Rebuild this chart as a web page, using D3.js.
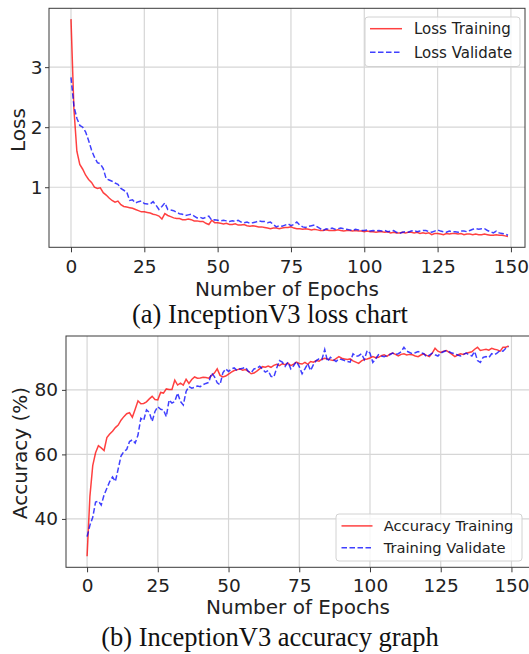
<!DOCTYPE html>
<html>
<head>
<meta charset="utf-8">
<title>InceptionV3 loss and accuracy</title>
<script src="https://d3js.org/d3.v7.min.js"></script>
<style>
    body { margin: 0; background: #fff; }
    svg { display: block; }
    .grid line { stroke: #d6d6d6; stroke-width: 1.2px; }
    .frame { fill: none; stroke: #3a3a3a; stroke-width: 1px; }
    .tick text { font-family: "DejaVu Sans", sans-serif; fill: #222; }
    .tick line { stroke: #3a3a3a; }
    .lbl { font-family: "DejaVu Sans", sans-serif; font-size: 20px; fill: #222; }
    .cap { font-family: "Liberation Serif", "Times New Roman", serif; font-size: 26.5px; fill: #111; }
    .leg text { font-family: "DejaVu Sans", sans-serif; fill: #222; }
</style>
</head>
<body>
<script>
// epochs 0..149
var epochs = d3.range(0, 150);
var xTicks = [0, 25, 50, 75, 100, 125, 150];

var lossTraining = [
 3.80, 2.30, 1.60, 1.38, 1.30, 1.20, 1.13, 1.08, 1.00, 0.98,
 0.99, 0.91, 0.87, 0.82, 0.78, 0.75, 0.77, 0.71, 0.68, 0.67,
 0.66, 0.65, 0.63, 0.61, 0.59, 0.59, 0.58, 0.57, 0.55, 0.54,
 0.52, 0.47, 0.56, 0.53, 0.51, 0.49, 0.48, 0.48, 0.46, 0.46,
 0.47, 0.46, 0.44, 0.44, 0.43, 0.43, 0.40, 0.38, 0.45, 0.41,
 0.41, 0.40, 0.39, 0.40, 0.38, 0.38, 0.39, 0.37, 0.37, 0.38,
 0.36, 0.35, 0.36, 0.35, 0.34, 0.34, 0.33, 0.32, 0.31, 0.32,
 0.32, 0.31, 0.32, 0.33, 0.33, 0.34, 0.32, 0.31, 0.31, 0.30,
 0.31, 0.30, 0.29, 0.30, 0.29, 0.28, 0.28, 0.29, 0.28, 0.28,
 0.28, 0.29, 0.28, 0.27, 0.28, 0.28, 0.27, 0.28, 0.27, 0.27,
 0.26, 0.27, 0.26, 0.26, 0.25, 0.26, 0.26, 0.25, 0.26, 0.24,
 0.25, 0.24, 0.24, 0.25, 0.24, 0.25, 0.25, 0.24, 0.25, 0.23,
 0.24, 0.23, 0.24, 0.21, 0.23, 0.23, 0.22, 0.21, 0.23, 0.22,
 0.23, 0.23, 0.22, 0.23, 0.21, 0.22, 0.22, 0.21, 0.22, 0.21,
 0.21, 0.22, 0.21, 0.20, 0.20, 0.21, 0.20, 0.20, 0.19, 0.18
];

var lossValidate = [
 2.83, 2.35, 2.15, 2.03, 2.00, 1.92, 1.78, 1.62, 1.50, 1.41,
 1.39, 1.31, 1.14, 1.12, 1.10, 1.07, 1.05, 0.98, 0.95, 0.92,
 0.78, 0.79, 0.74, 0.76, 0.77, 0.73, 0.72, 0.72, 0.76, 0.70,
 0.63, 0.68, 0.74, 0.63, 0.62, 0.61, 0.58, 0.56, 0.55, 0.53,
 0.54, 0.55, 0.52, 0.49, 0.50, 0.48, 0.50, 0.52, 0.45, 0.46,
 0.45, 0.44, 0.45, 0.44, 0.43, 0.44, 0.43, 0.45, 0.42, 0.41,
 0.42, 0.40, 0.41, 0.42, 0.44, 0.43, 0.43, 0.41, 0.42, 0.38,
 0.34, 0.36, 0.35, 0.37, 0.39, 0.36, 0.38, 0.42, 0.37, 0.34,
 0.33, 0.35, 0.36, 0.37, 0.34, 0.31, 0.28, 0.31, 0.30, 0.32,
 0.30, 0.31, 0.32, 0.31, 0.30, 0.29, 0.28, 0.30, 0.29, 0.28,
 0.28, 0.29, 0.27, 0.28, 0.27, 0.28, 0.27, 0.28, 0.26, 0.27,
 0.28, 0.25, 0.23, 0.25, 0.26, 0.25, 0.27, 0.28, 0.26, 0.27,
 0.28, 0.28, 0.26, 0.25, 0.27, 0.29, 0.27, 0.26, 0.25, 0.27,
 0.26, 0.26, 0.25, 0.27, 0.27, 0.26, 0.28, 0.30, 0.31, 0.30,
 0.31, 0.31, 0.28, 0.26, 0.24, 0.27, 0.24, 0.23, 0.22, 0.20
];

var accTraining = [
 28.4, 47.0, 56.5, 60.5, 62.7, 62.0, 61.2, 65.2, 66.3, 67.2,
 68.3, 69.1, 70.6, 71.7, 72.6, 72.9, 71.5, 74.0, 76.6, 75.7,
 75.8, 76.3, 77.2, 78.0, 77.0, 76.9, 79.2, 79.0, 80.3, 80.1,
 80.1, 83.0, 81.5, 82.1, 81.5, 83.3, 82.0, 83.2, 84.0, 83.6,
 83.7, 83.9, 83.8, 83.6, 84.5, 85.2, 86.5, 84.5, 84.0, 84.3,
 84.9, 85.5, 86.0, 86.2, 86.5, 86.1, 86.3, 85.7, 85.0, 85.2,
 85.8, 86.5, 87.2, 87.0, 87.4, 87.0, 87.6, 87.9, 87.5, 88.1,
 87.8, 88.3, 87.5, 88.0, 88.6, 88.2, 88.0, 88.5, 87.9, 88.8,
 88.6, 89.1, 88.9, 89.5, 89.8, 89.6, 89.3, 89.1, 89.7, 90.3,
 89.8, 89.6, 89.4, 89.6, 89.0, 88.6, 88.2, 89.0, 89.4, 89.6,
 89.9, 90.3, 90.0, 90.1, 90.6, 90.9, 90.4, 91.1, 91.4, 91.0,
 90.5, 91.0, 91.2, 90.8, 91.0, 90.9, 90.5, 90.3, 90.8, 91.2,
 90.7, 90.3, 91.4, 92.9, 92.0, 91.6, 92.0, 92.2, 91.6, 91.0,
 90.3, 90.8, 91.2, 91.0, 91.4, 91.6, 91.8, 92.6, 93.2, 92.2,
 92.4, 92.6, 92.3, 92.9, 92.6, 92.4, 92.0, 93.2, 93.2, 93.6
];

var accValidate = [
 34.5, 38.0, 40.5, 45.2, 45.5, 44.3, 47.4, 49.5, 51.6, 53.0,
 51.6, 55.5, 59.5, 60.9, 61.5, 64.0, 64.5, 63.5, 66.0, 71.2,
 70.5, 73.8, 73.0, 70.2, 73.3, 74.8, 74.0, 73.8, 71.7, 76.9,
 75.9, 76.4, 79.0, 76.4, 75.3, 79.5, 81.0, 80.5, 80.8, 81.2,
 81.0, 81.6, 82.0, 82.3, 85.2, 84.1, 82.2, 81.6, 85.3, 86.5,
 85.7, 86.5, 86.8, 86.0, 86.5, 86.7, 87.0, 85.7, 85.3, 86.5,
 86.7, 87.3, 86.5, 85.5, 86.0, 84.2, 84.0, 86.7, 89.1, 88.6,
 87.3, 88.6, 86.5, 87.5, 88.8, 87.2, 85.0, 86.5, 88.1, 86.0,
 87.8, 89.1, 89.6, 89.4, 92.5, 88.8, 90.1, 89.4, 88.8, 89.6,
 89.4, 89.1, 88.8, 88.6, 91.2, 90.4, 90.6, 91.2, 89.4, 92.2,
 91.4, 88.5, 89.6, 90.9, 90.5, 90.3, 90.6, 90.9, 91.4, 91.0,
 91.2, 91.8, 93.2, 92.0, 91.6, 91.2, 91.5, 91.9, 91.5, 91.2,
 90.3, 90.8, 91.4, 90.9, 90.5, 91.4, 91.8, 92.2, 91.8, 91.4,
 91.2, 90.8, 90.5, 91.0, 91.4, 90.9, 90.5, 91.9, 89.1, 88.5,
 90.1, 90.3, 90.0, 91.2, 90.9, 91.5, 92.2, 92.0, 92.9, 93.4
];

var lossTicks = [1, 2, 3];
var accTicks = [40, 60, 80];

var W = 529, H = 654;
var svg = d3.select("body").append("svg")
    .attr("width", W)
    .attr("height", H);

var RED = "#ff0000", BLUE = "#0000ff";

function drawChart(c) {
    var x = d3.scaleLinear().domain(c.xDomain).range([c.left, c.right]);
    var y = d3.scaleLinear().domain(c.yDomain).range([c.bottom, c.top]);

    var g = svg.append("g");
    var clipId = "clip" + c.id;
    svg.append("clipPath").attr("id", clipId)
        .append("rect")
        .attr("x", c.left).attr("y", c.top)
        .attr("width", c.right - c.left).attr("height", c.bottom - c.top);

    // grid
    var grid = g.append("g").attr("class", "grid");
    grid.selectAll(".gx").data(xTicks).enter().append("line")
        .attr("x1", d => x(d)).attr("x2", d => x(d))
        .attr("y1", c.top).attr("y2", c.bottom);
    grid.selectAll(".gy").data(c.yTicks).enter().append("line")
        .attr("x1", c.left).attr("x2", c.right)
        .attr("y1", d => y(d)).attr("y2", d => y(d));

    // series
    var line = d3.line().x((d, i) => x(epochs[i])).y(d => y(d));
    var lines = g.append("g").attr("clip-path", "url(#" + clipId + ")");
    lines.append("path").datum(c.train)
        .attr("d", line)
        .attr("fill", "none").attr("stroke", RED)
        .attr("stroke-opacity", 0.75).attr("stroke-width", 1.5);
    lines.append("path").datum(c.valid)
        .attr("d", line)
        .attr("fill", "none").attr("stroke", BLUE)
        .attr("stroke-opacity", 0.75).attr("stroke-width", 1.5)
        .attr("stroke-dasharray", "5.5,2.5");

    // frame
    g.append("rect").attr("class", "frame")
        .attr("x", c.left).attr("y", c.top)
        .attr("width", c.right - c.left).attr("height", c.bottom - c.top);

    // axes
    var ax = g.append("g")
        .attr("transform", "translate(0," + c.bottom + ")")
        .call(d3.axisBottom(x).tickValues(xTicks).tickFormat(d3.format("d"))
            .tickSize(5).tickPadding(c.xPad));
    ax.select(".domain").remove();
    ax.selectAll("text").style("font-size", "18.5px");

    var ay = g.append("g")
        .attr("transform", "translate(" + c.left + ",0)")
        .call(d3.axisLeft(y).tickValues(c.yTicks).tickFormat(d3.format("d"))
            .tickSize(4).tickPadding(c.yPad));
    ay.select(".domain").remove();
    ay.selectAll("text").style("font-size", "18.5px");

    // labels
    g.append("text").attr("class", "lbl")
        .attr("x", c.xLabelX).attr("y", c.xLabelY)
        .attr("text-anchor", "middle")
        .text("Number of Epochs");
    g.append("text").attr("class", "lbl")
        .attr("transform", "translate(" + c.yLabelX + "," + c.yLabelY + ") rotate(-90)")
        .attr("text-anchor", "middle")
        .text(c.yLabel);

    // legend
    var L = c.legend;
    var leg = g.append("g").attr("class", "leg");
    leg.append("rect")
        .attr("x", L.x).attr("y", L.y).attr("width", L.w).attr("height", L.h)
        .attr("rx", 3)
        .attr("fill", "#fff").attr("fill-opacity", 0.8)
        .attr("stroke", "#d2d2d2").attr("stroke-width", 1);
    var items = [
        {name: c.names[0], color: RED, dash: null},
        {name: c.names[1], color: BLUE, dash: "5.5,2.5"}
    ];
    items.forEach(function (it, i) {
        var ry = L.rows[i];
        leg.append("line")
            .attr("x1", L.sx0).attr("x2", L.sx1)
            .attr("y1", ry).attr("y2", ry)
            .attr("stroke", it.color).attr("stroke-opacity", 0.75)
            .attr("stroke-width", 1.5)
            .attr("stroke-dasharray", it.dash);
        leg.append("text")
            .attr("x", L.tx).attr("y", ry).attr("dy", "0.36em")
            .style("font-size", L.fs + "px")
            .text(it.name);
    });

    svg.append("text").attr("class", "cap")
        .attr("x", 270).attr("y", c.capY)
        .attr("text-anchor", "middle")
        .text(c.caption);
}

drawChart({
    id: "a",
    left: 49, right: 525, top: 8.3, bottom: 247.3,
    xDomain: [-7.5, 154.8], yDomain: [0, 3.98],
    yTicks: lossTicks, xPad: 8, yPad: 2.5,
    train: lossTraining, valid: lossValidate,
    yLabel: "Loss", yLabelX: 25, yLabelY: 130,
    xLabelX: 287, xLabelY: 296,
    names: ["Loss Training", "Loss Validate"],
    legend: {x: 365, y: 17, w: 155, h: 49.5, sx0: 370, sx1: 402, tx: 414, rows: [28.7, 52.3], fs: 15},
    caption: "(a) InceptionV3 loss chart", capY: 323
});

drawChart({
    id: "b",
    left: 66, right: 529.7, top: 336, bottom: 567.3,
    xDomain: [-7.45, 156.45], yDomain: [25.0, 96.7],
    yTicks: accTicks, xPad: 6.3, yPad: 4,
    train: accTraining, valid: accValidate,
    yLabel: "Accuracy (%)", yLabelX: 26.5, yLabelY: 453,
    xLabelX: 298, xLabelY: 614,
    names: ["Accuracy Training", "Training Validate"],
    legend: {x: 336, y: 514, w: 186, h: 47, sx0: 341.5, sx1: 372.5, tx: 383.7, rows: [525.9, 547.8], fs: 14.7},
    caption: "(b) InceptionV3 accuracy graph", capY: 646
});
</script>
</body>
</html>
